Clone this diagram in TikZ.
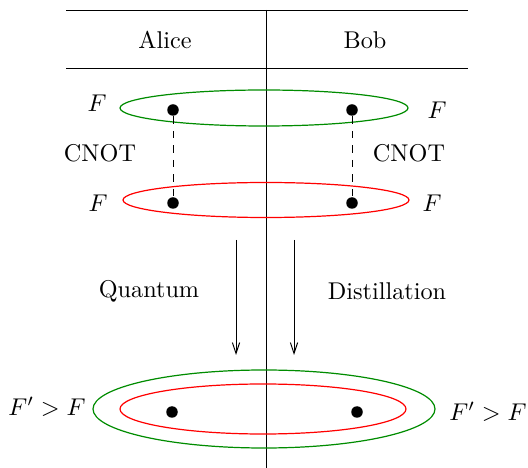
\documentclass[tikz,border=0pt]{standalone}
\usetikzlibrary{arrows.meta}
\definecolor{dgreen}{RGB}{0,140,0}
\begin{document}
\begin{tikzpicture}[x=0.4125pt,y=-0.4125pt,
  dot/.style={circle,fill=black,inner sep=0pt,minimum size=11.5*0.4125pt},
  lbl/.style={inner sep=0pt},
  gell/.style={draw=dgreen,line width=0.5pt},
  rell/.style={draw=red,line width=0.5pt},
  downarrow/.style={-{Straight Barb[length=4.5pt,width=3pt]}}]
\useasboundingbox (0,0) rectangle (528,468);
% table frame
\draw (66,10) -- (468,10);
\draw (66,68) -- (468,68);
\draw (266,10) -- (266,468);
\node[lbl] (alice) at (165,40) {Alice};
\node[lbl] (bob) at (365,40) {Bob};
% top pairs
\draw[gell] (264,108) ellipse [x radius=144, y radius=18];
\draw[rell] (266,200) ellipse [x radius=143, y radius=17.5];
\node[dot] (a1) at (173,110) {};
\node[dot] (b1) at (352,110) {};
\node[dot] (a2) at (173,203) {};
\node[dot] (b2) at (352,203) {};
\draw[dashed] (a1) -- (a2);
\draw[dashed] (b1) -- (b2);
\node[lbl] (f1) at (97,103) {$F$};
\node[lbl] (f2) at (437,110) {$F$};
\node[lbl] (f3) at (98,203) {$F$};
\node[lbl] (f4) at (432,203) {$F$};
\node[lbl] (cn1) at (100,153) {CNOT};
\node[lbl] (cn2) at (409,153) {CNOT};
% arrows
\coordinate (s1) at (236,240);
\coordinate (e1) at (236,355);
\coordinate (s2) at (294,240);
\coordinate (e2) at (294,355);
\draw[downarrow] (s1) -- (e1);
\draw[downarrow] (s2) -- (e2);
\node[lbl] (q) at (149,291) {Quantum};
\node[lbl] (d) at (387,291) {Distillation};
% result
\draw[gell] (264,409) ellipse [x radius=171, y radius=39];
\draw[rell] (263,409) ellipse [x radius=143, y radius=25];
\node[dot] (a3) at (172,412) {};
\node[dot] (b3) at (357,412) {};
\node[lbl] (r1) at (47,407) {$F'>F$};
\node[lbl] (r2) at (488,412) {$F'>F$};
\end{tikzpicture}
\end{document}
